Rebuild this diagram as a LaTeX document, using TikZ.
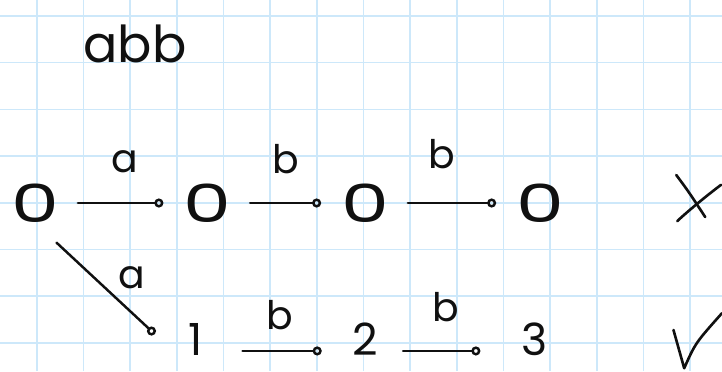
\documentclass[tikz,border=0pt]{standalone}
\usepackage{fontspec}
\setmainfont{Poppins}
\usepackage{graphicx}
\usetikzlibrary{arrows.meta}
\definecolor{GridBlue}{HTML}{CDE8FA}
\definecolor{Ink}{HTML}{101010}

\newcommand{\wordsize}{\fontsize{31}{35}\selectfont}
\newcommand{\labelsize}{\fontsize{24}{28}\selectfont}
\newcommand{\statesize}{\fontsize{27}{31}\selectfont}
\newcommand{\zerosize}{\fontsize{32}{36}\selectfont}
\newcommand{\zero}{\scalebox{1.45}[1]{0}}

\begin{document}
\begin{tikzpicture}[x=1cm, y=1cm,
    gridline/.style={GridBlue, line width=1pt},
    zstate/.style={Ink, font=\zerosize, inner sep=0pt, minimum width=1cm, minimum height=0.8cm},
    dstate/.style={Ink, font=\statesize, inner sep=0pt, minimum width=0.6cm, minimum height=0.8cm},
    trans/.style={Ink, line width=1.5pt, line cap=round, -{Circle[open, length=5.5pt, width=5.5pt]},
      shorten <=0.4cm, shorten >=0.42cm},
    lbl/.style={Ink, font=\labelsize, inner sep=0pt},
    tick/.style={Ink, line width=1.6pt, line cap=round, line join=round}]
  % Paper
  \fill[white] (0,0) rectangle (15.47,7.95);
  \useasboundingbox (0,0) rectangle (15.47,7.95);
  \foreach \k in {0,...,14} {
    \draw[gridline] (0.786+\k,0) -- (0.786+\k,7.95);
  }
  \foreach \k in {0,...,7} {
    \draw[gridline] (0,0.607+\k) -- (15.47,0.607+\k);
  }
  % Input word
  \node[Ink, font=\wordsize, anchor=base, inner sep=0pt] (word) at (2.89,6.62) {abb};
  % Rejecting run
  \node[zstate] (z0) at (0.75,3.6) {\zero};
  \node[zstate] (z1) at (4.44,3.6) {\zero};
  \node[zstate] (z2) at (7.82,3.6) {\zero};
  \node[zstate] (z3) at (11.57,3.6) {\zero};
  \draw[trans] (z0) -- node[lbl, above=0.62cm, xshift=0.08cm] (la0) {a} (z1);
  \draw[trans] (z1) -- node[lbl, above=0.6cm] (lb1) {b} (z2);
  \draw[trans] (z2) -- node[lbl, above=0.7cm, xshift=-0.22cm] (lb2) {b} (z3);
  % Accepting run
  \node[dstate] (d1) at (4.18,0.68) {1};
  \node[dstate] (d2) at (7.82,0.68) {2};
  \node[dstate] (d3) at (11.46,0.68) {3};
  \coordinate (rowb) at (0,0.43);
  \draw[trans, shorten <=0.63cm, shorten >=0.76cm] (z0.south) -- node[lbl, pos=0.53, above right=0.1cm] (la1) {a} (d1.south west);
  \draw[trans, shorten <=0.71cm, shorten >=0.62cm] (rowb -| d1.east) -- node[lbl, above=0.42cm] (lb3) {b} (rowb -| d2.west);
  \draw[trans, shorten <=0.51cm, shorten >=0.86cm] (rowb -| d2.east) -- node[lbl, above=0.6cm, xshift=-0.08cm] (lb4) {b} (rowb -| d3.west);
  % Verdicts
  \draw[tick] (14.49,4.20) .. controls (14.75,3.85) .. (15.11,3.30);
  \draw[tick] (14.51,3.21) .. controls (14.6,3.3) and (15.0,3.65) .. (15.45,3.99);
  \draw[tick] (14.43,0.88) -- (14.66,0.06) .. controls (14.9,0.6) .. (15.47,1.24);
\end{tikzpicture}
\end{document}
